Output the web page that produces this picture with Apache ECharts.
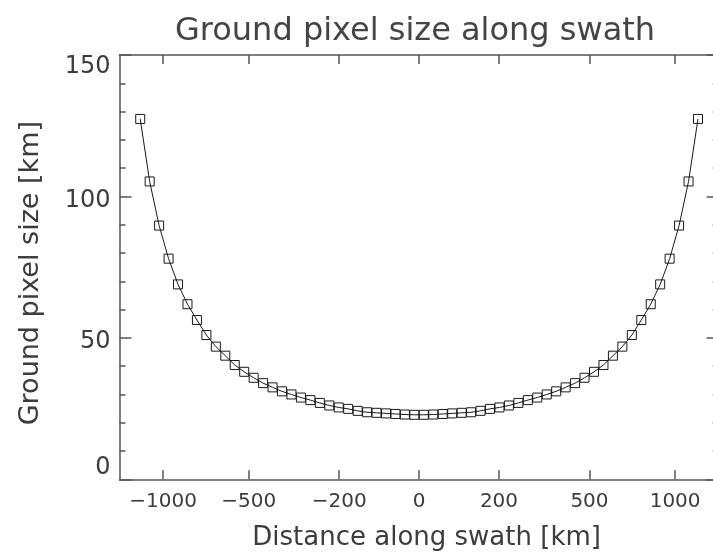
<!DOCTYPE html>
<html>
<head>
<meta charset="utf-8">
<script src="https://cdn.jsdelivr.net/npm/echarts@6/dist/echarts.min.js"></script>
<style>
html,body{margin:0;padding:0;background:#fff;}
#chart{width:713px;height:552px;}
</style>
</head>
<body>
<div id="chart"></div>
<script>
// Across-track ground pixel number (equally spaced on the x axis)
var pixelIndex = [0,1,2,3,4,5,6,7,8,9,10,11,12,13,14,15,16,17,18,19,20,21,22,23,24,25,26,27,28,29,
                  30,31,32,33,34,35,36,37,38,39,40,41,42,43,44,45,46,47,48,49,50,51,52,53,54,55,56,57,58,59];
// Ground pixel size [km]
var pixelSize = [127.4,105.3,89.7,78.0,68.9,61.9,56.3,51.0,46.9,43.7,40.4,38.0,35.9,34.0,32.5,31.1,30.0,28.9,28.0,27.0,
                 26.1,25.4,24.9,24.2,23.7,23.5,23.3,23.1,22.9,22.8,22.8,22.9,23.1,23.3,23.5,23.7,24.2,24.9,25.4,26.1,
                 27.0,28.0,28.9,30.0,31.1,32.5,34.0,35.9,38.0,40.4,43.7,46.9,51.0,56.3,61.9,68.9,78.0,89.7,105.3,127.4];
// Distance tick labels and where they fall on the pixel-number axis
var distTickLabels = ['\u22121000','\u2212500','\u2212200','0','200','500','1000'];
var distTickPos = [2.42, 11.48, 21.05, 29.5, 37.95, 47.52, 56.58];
var yTicks = [0, 50, 100, 150];

var FONT = 'DejaVu Sans';
var TXT = '#3c3c3c';
var AX = '#555555';

var seriesData = pixelIndex.map(function (p, k) { return [p, pixelSize[k]]; });

function distLabel(v) {
  for (var k = 0; k < distTickPos.length; k++) {
    if (Math.abs(distTickPos[k] - v) < 1e-6) return distTickLabels[k];
  }
  return '';
}

var chart = echarts.init(document.getElementById('chart'), null, {renderer: 'canvas'});
chart.setOption({
  animation: false,
  backgroundColor: '#ffffff',
  title: {
    text: 'Ground pixel size along swath',
    left: 170,
    top: 11,
    textStyle: {fontFamily: FONT, fontSize: 32, fontWeight: 'normal', color: '#444444'}
  },
  grid: {left: 119.5, top: 55, width: 599.2, height: 424.3, containLabel: false, outerBoundsMode: 'none'},
  xAxis: [{
    type: 'value',
    position: 'bottom',
    min: -2.19, max: 61.19,
    splitLine: {show: false},
    axisLine: {show: true, onZero: false, lineStyle: {color: AX, width: 1.5}},
    axisTick: {show: true, inside: true, length: 9, customValues: distTickPos, lineStyle: {color: AX, width: 1.5}},
    axisLabel: {show: true, customValues: distTickPos, formatter: distLabel, margin: 12,
                fontFamily: FONT, fontSize: 20, color: TXT},
    name: 'Distance along swath [km]',
    nameLocation: 'middle',
    nameGap: 46,
    nameTextStyle: {fontFamily: FONT, fontSize: 26, color: TXT, padding: [0, 0, 0, 15]}
  }, {
    type: 'value',
    position: 'top',
    min: -2.19, max: 61.19,
    splitLine: {show: false},
    axisLine: {show: true, onZero: false, lineStyle: {color: AX, width: 1.5}},
    axisTick: {show: true, inside: true, length: 9, customValues: distTickPos, lineStyle: {color: AX, width: 1.5}},
    axisLabel: {show: false}
  }],
  yAxis: [{
    type: 'value',
    position: 'left',
    min: 0, max: 150, interval: 50,
    splitLine: {show: false},
    axisLine: {show: true, onZero: false, lineStyle: {color: AX, width: 1.5}},
    axisTick: {show: true, inside: true, length: 12, lineStyle: {color: AX, width: 1.5}},
    minorTick: {show: true, splitNumber: 5, length: 6, lineStyle: {color: AX, width: 1.5}},
    axisLabel: {
      margin: 9,
      formatter: function (v) {
        if (v === yTicks[3]) return '{a|' + v + '}';
        if (v === yTicks[0]) return '{b|' + v + '}';
        return '{m|' + v + '}';
      },
      rich: {
        a: {fontFamily: FONT, fontSize: 24, color: TXT, padding: [24, 0, 0, 0]},
        m: {fontFamily: FONT, fontSize: 24, color: TXT, padding: [8, 0, 0, 0]},
        b: {fontFamily: FONT, fontSize: 24, color: TXT, padding: [0, 0, 24, 0]}
      }
    },
    name: 'Ground pixel size [km]',
    nameLocation: 'middle',
    nameGap: 75,
    nameRotate: 90,
    nameTextStyle: {fontFamily: FONT, fontSize: 27, color: TXT, padding: [0, 12, 0, 0]}
  }, {
    type: 'value',
    position: 'right',
    min: 0, max: 150, interval: 50,
    splitLine: {show: false},
    axisLine: {show: true, onZero: false, lineStyle: {color: AX, width: 1.5}},
    axisTick: {show: true, inside: true, length: 12, lineStyle: {color: AX, width: 1.5}},
    minorTick: {show: true, splitNumber: 5, length: 6, lineStyle: {color: AX, width: 1.5}},
    axisLabel: {show: false}
  }],
  series: [{
    type: 'line',
    xAxisIndex: 0,
    yAxisIndex: 0,
    data: seriesData,
    symbol: 'rect',
    symbolSize: 9,
    showSymbol: true,
    lineStyle: {color: '#1a1a1a', width: 1},
    itemStyle: {color: 'rgba(0,0,0,0)', borderColor: '#1a1a1a', borderWidth: 1},
    emphasis: {disabled: true}
  }]
});
</script>
</body>
</html>
